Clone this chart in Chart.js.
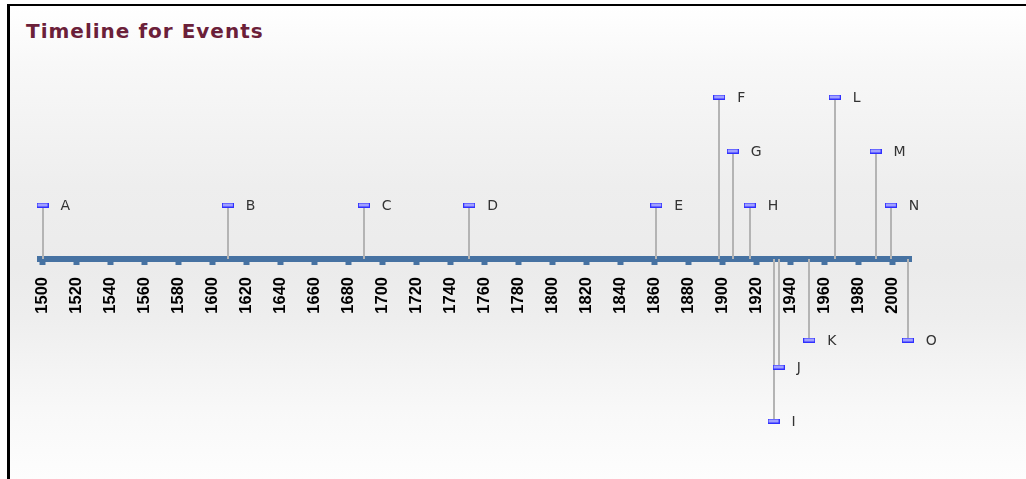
<!DOCTYPE html>
<html>
<head>
<meta charset="utf-8">
<script src="https://cdn.jsdelivr.net/npm/chart.js@4/dist/chart.umd.min.js"></script>
<style>
  html, body { margin: 0; padding: 0; width: 1026px; height: 479px; overflow: hidden; background: #fff; }
  #frame {
    position: absolute; left: 7px; top: 4px; right: 0; bottom: 0;
    border-top: 2px solid #000; border-left: 3px solid #000;
    background: linear-gradient(to bottom, #ffffff 0%, #f8f8f8 12%, #eeeeee 38%, #ebebeb 55%, #eeeeee 66%, #f8f8f8 85%, #fdfdfd 100%);
  }
  #title {
    position: absolute; left: 26px; top: 21px; margin: 0;
    font: bold 20px/20px "DejaVu Sans", sans-serif; letter-spacing: 1px;
    color: #6b2039; white-space: nowrap;
  }
  #chart { position: absolute; left: 0; top: 0; }
</style>
</head>
<body>
<div id="frame"></div>
<h1 id="title">Timeline for Events</h1>
<canvas id="chart" width="1026" height="479"></canvas>
<script>
// Events on the timeline: name, year, and how far above (+) or below (-) the axis the flag sits
const eventNames  = ['A', 'B', 'C', 'D', 'E', 'F', 'G', 'H', 'I', 'J', 'K', 'L', 'M', 'N', 'O'];
const eventYears  = [1500, 1609, 1689, 1751, 1861, 1898, 1906, 1916, 1930, 1933, 1951, 1966, 1990, 1999, 2009];
const eventLevels = [2, 2, 2, 2, 2, 6, 4, 2, -6, -4, -3, 6, 4, 2, -3];

// Year ticks along the axis
const tickYears = [1500, 1520, 1540, 1560, 1580, 1600, 1620, 1640, 1660, 1680, 1700,
                   1720, 1740, 1760, 1780, 1800, 1820, 1840, 1860, 1880, 1900,
                   1920, 1940, 1960, 1980, 2000];

const axisBlue = '#4672a2';

// Small flat flag used as the event marker
function makeMarker() {
  const c = document.createElement('canvas');
  c.width = 12; c.height = 5;
  const g = c.getContext('2d');
  g.fillStyle = '#3030ff';
  g.fillRect(0, 0, 12, 5);
  g.fillStyle = '#a0a0ff';
  g.fillRect(1, 1, 10, 3);
  return c;
}

// Draws the stems from the axis to each marker, and the event letters
const stemsAndNames = {
  id: 'stemsAndNames',
  beforeDatasetsDraw(chart) {
    const { ctx } = chart;
    const y0 = chart.scales.y.getPixelForValue(0);
    const pts = chart.getDatasetMeta(0).data;
    ctx.save();
    ctx.strokeStyle = '#b4b4b4';
    ctx.lineWidth = 2;
    pts.forEach(p => {
      const px = Math.round(p.x);
      ctx.beginPath();
      ctx.moveTo(px, y0);
      ctx.lineTo(px, p.y);
      ctx.stroke();
    });
    ctx.restore();
  },
  afterDatasetsDraw(chart) {
    const { ctx } = chart;
    const pts = chart.getDatasetMeta(0).data;
    ctx.save();
    ctx.font = '14px "DejaVu Sans", sans-serif';
    ctx.fillStyle = '#333333';
    ctx.textAlign = 'left';
    ctx.textBaseline = 'middle';
    pts.forEach((p, i) => {
      ctx.fillText(eventNames[i], p.x + 18, p.y + 1);
    });
    ctx.restore();
  }
};

new Chart(document.getElementById('chart'), {
  type: 'scatter',
  data: {
    datasets: [{
      data: eventYears.map((yr, i) => ({ x: yr, y: eventLevels[i] })),
      pointStyle: makeMarker(),
      pointRadius: 6,
      pointHoverRadius: 6,
      showLine: false,
      clip: false
    }]
  },
  options: {
    responsive: false,
    animation: false,
    events: [],
    layout: { padding: { left: 40, right: 114.75, top: 70, bottom: 31 } },
    plugins: {
      legend: { display: false },
      tooltip: { enabled: false }
    },
    scales: {
      x: {
        type: 'linear',
        min: 1498.5,
        max: 2011,
        position: { y: 0 },
        z: 1,
        afterBuildTicks(scale) {
          scale.ticks = tickYears.map(v => ({ value: v }));
        },
        grid: {
          display: true,
          drawOnChartArea: false,
          drawTicks: true,
          tickLength: 3,
          tickWidth: 6,
          tickColor: axisBlue
        },
        border: { display: true, width: 6, color: axisBlue },
        ticks: {
          autoSkip: false,
          minRotation: 90,
          maxRotation: 90,
          padding: 15,
          color: '#000000',
          font: { family: '"Liberation Sans", Arial, sans-serif', size: 16.5, weight: 'bold' },
          callback: v => String(v)
        }
      },
      y: {
        type: 'linear',
        display: false,
        min: -7,
        max: 7
      }
    }
  },
  plugins: [stemsAndNames]
});
</script>
</body>
</html>
